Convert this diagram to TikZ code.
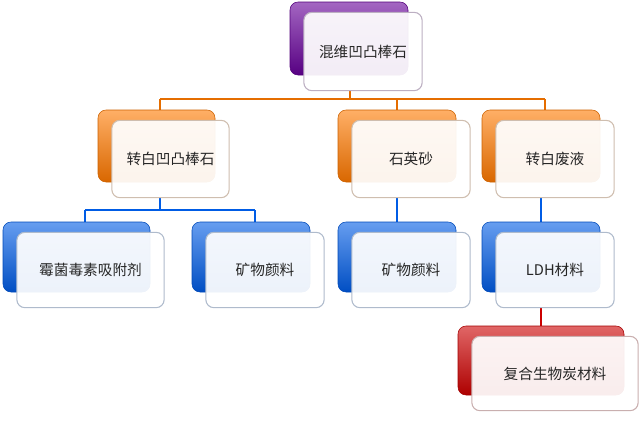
\documentclass[tikz,border=0pt]{standalone}
\usepackage{fontspec}
\setmainfont{Noto Sans CJK SC}
\begin{document}
\begin{tikzpicture}[x=0.75pt,y=-0.75pt,
 back/.style={rounded corners=6pt,top color=#1!60!white,bottom color=#1!85!black,draw=#1!80!black},
 front/.style={rounded corners=6pt,fill=white,fill opacity=0.93,draw=#1!25!gray!50!white,line width=0.8pt,text opacity=1,font=\fontsize{11}{13}\selectfont,text=black!85},
 conn/.style={draw=#1,line width=1.8pt}]
\useasboundingbox (0,0) rectangle (641,422);
\colorlet{pur}{violet!80!blue}
\colorlet{org}{orange!95!red}
\colorlet{blu}{blue!60!cyan!90!black}
\colorlet{rd}{red!80!black}
% connectors
\coordinate (h1) at (160,99); \coordinate (h2) at (545,99);
\coordinate (b1) at (85,210); \coordinate (b2) at (255,210);
\draw[conn=org!90!black] (350,90) -- (350,99);
\draw[conn=org!90!black] (h1) -- (h2);
\draw[conn=org!90!black] (h1) -- (160,110) (397,99) -- (397,110) (h2) -- (545,110);
\draw[conn=blu] (160,197) -- (160,210) (b1) -- (b2) (b1) -- (85,222) (b2) -- (255,222);
\draw[conn=blu] (397,197) -- (397,222);
\draw[conn=blu] (541,197) -- (541,222);
\draw[conn=rd] (541,308) -- (541,326);
% nodes
\newcommand{\mybox}[7]{%
 \path[back=#1] (#2,#3) rectangle ++(#4,#5);
 \node[front=#1,minimum width=#4*0.75pt+0.2pt,minimum height=#5*0.75pt+4pt] (#6) at (#2+#4/2+14,#3+#5/2+13) {#7};}
\mybox{pur}{290}{2}{118}{73}{n0}{混维凹凸棒石}
\mybox{org}{98}{110}{117}{72}{n1}{转白凹凸棒石}
\mybox{org}{338}{110}{118}{72}{n2}{石英砂}
\mybox{org}{482}{110}{118}{72}{n3}{转白废液}
\mybox{blu}{3}{222}{147}{70}{n4}{霉菌毒素吸附剂}
\mybox{blu}{192}{222}{118}{70}{n5}{矿物颜料}
\mybox{blu}{338}{222}{118}{70}{n6}{矿物颜料}
\mybox{blu}{482}{222}{118}{70}{n7}{LDH材料}
\mybox{rd}{458}{326}{166}{69}{n8}{复合生物炭材料}
\end{tikzpicture}
\end{document}
